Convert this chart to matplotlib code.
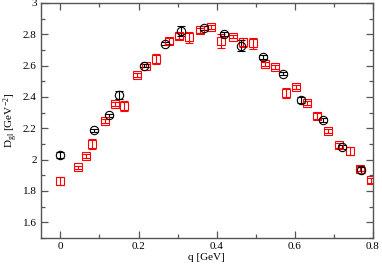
import numpy as np
import matplotlib
matplotlib.use("Agg")
import matplotlib.pyplot as plt
from matplotlib.ticker import MultipleLocator

# black circles
q_blk = [0.0, 0.085, 0.125, 0.151, 0.215, 0.267, 0.308, 0.367, 0.418, 0.463,
         0.519, 0.570, 0.616, 0.673, 0.722, 0.770]
d_blk = [2.03, 2.188, 2.283, 2.41, 2.60, 2.74, 2.82, 2.84, 2.80, 2.728,
         2.655, 2.547, 2.381, 2.255, 2.081, 1.932]
e_blk = [0.02, 0.01, 0.01, 0.025, 0.01, 0.01, 0.03, 0.015, 0.012, 0.035,
         0.015, 0.01, 0.02, 0.012, 0.012, 0.02]

# red squares
q_red = [0.0, 0.045, 0.065, 0.080, 0.115, 0.140, 0.163, 0.195, 0.220, 0.246,
         0.277, 0.304, 0.330, 0.358, 0.386, 0.411, 0.441, 0.467, 0.493, 0.523,
         0.550, 0.577, 0.604, 0.632, 0.658, 0.686, 0.714, 0.741, 0.768, 0.795]
d_red = [1.862, 1.951, 2.024, 2.10, 2.247, 2.355, 2.343, 2.539, 2.60, 2.641,
         2.759, 2.79, 2.78, 2.826, 2.846, 2.758, 2.785, 2.748, 2.743, 2.61,
         2.59, 2.424, 2.462, 2.36, 2.279, 2.183, 2.092, 2.057, 1.943, 1.868]
e_red = [0.025, 0.01, 0.012, 0.03, 0.015, 0.015, 0.03, 0.012, 0.012, 0.03,
         0.02, 0.02, 0.037, 0.015, 0.015, 0.045, 0.012, 0.03, 0.035, 0.015,
         0.012, 0.03, 0.012, 0.012, 0.02, 0.012, 0.015, 0.025, 0.015, 0.015]

plt.rcParams['font.family'] = 'Liberation Serif'
plt.rcParams['mathtext.fontset'] = 'custom'
plt.rcParams['mathtext.rm'] = 'Liberation Serif'
plt.rcParams['mathtext.it'] = 'Liberation Serif:italic'

fig = plt.figure(figsize=(3.82, 2.64), dpi=100)
ax = fig.add_axes([0.107, 0.0985, 0.869, 0.8905])

ax.errorbar(q_red, d_red, yerr=e_red, fmt='s', mfc='none', mec='red',
            ecolor='red', ms=5.5, mew=0.8, elinewidth=0.8, capsize=3, capthick=0.8)
ax.errorbar(q_blk, d_blk, yerr=e_blk, fmt='o', mfc='none', mec='black',
            ecolor='black', ms=6, mew=0.8, elinewidth=0.8, capsize=3, capthick=0.8)

ax.set_xlim(-0.05, 0.8)
ax.set_ylim(1.5, 3.0)
ax.xaxis.set_minor_locator(MultipleLocator(0.1))
ax.yaxis.set_minor_locator(MultipleLocator(0.1))
ax.set_xticks([0, 0.2, 0.4, 0.6, 0.8])
ax.set_xticklabels(['0', '0.2', '0.4', '0.6', '0.8'])
ax.set_yticks([1.6, 1.8, 2.0, 2.2, 2.4, 2.6, 2.8, 3.0])
ax.set_yticklabels(['1.6', '1.8', '2', '2.2', '2.4', '2.6', '2.8', '3'])

ax.tick_params(which='both', direction='in', top=True, right=True,
               color='#555555', labelsize=8, pad=3)
ax.tick_params(which='major', length=5, width=0.9)
ax.tick_params(which='minor', length=3, width=0.9)
for s in ax.spines.values():
    s.set_color('#555555')
    s.set_linewidth(1.0)

ax.set_xlabel('q [GeV]', fontsize=8, labelpad=1)
ax.set_ylabel(r'D$_{\rm gl}$ [GeV$^{-2}$]', fontsize=8, labelpad=2)

fig.savefig('out.png', dpi=100)
